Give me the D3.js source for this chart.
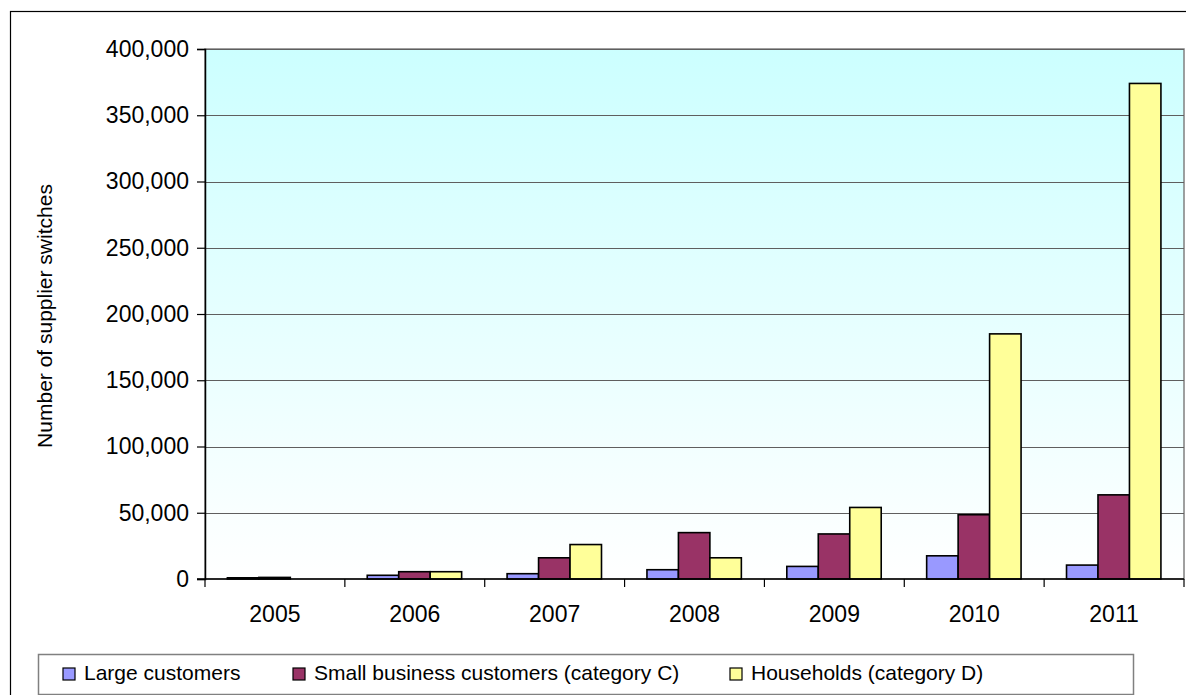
<!DOCTYPE html>
<html>
<head>
<meta charset="utf-8">
<script src="https://cdn.jsdelivr.net/npm/d3@7"></script>
<style>
  body { margin: 0; background: #fff; }
  svg { display: block; font-family: "Liberation Sans", Arial, sans-serif; }
</style>
</head>
<body>
<svg id="chart" width="1186" height="695"></svg>
<script>
// supplier switches per year
const years = ["2005", "2006", "2007", "2008", "2009", "2010", "2011"];
const seriesNames = ["Large customers", "Small business customers (category C)", "Households (category D)"];
const largeCustomers = [900, 2800, 4000, 7000, 9500, 17500, 10500];
const smallBusiness = [1200, 5500, 16000, 35000, 34000, 48500, 63500];
const households = [0, 5500, 26000, 16000, 54000, 185000, 374000];
const yTicks = [0, 50000, 100000, 150000, 200000, 250000, 300000, 350000, 400000];
const colors = ["#9999ff", "#993366", "#ffff99"];

const svg = d3.select("#chart");
const plot = { left: 205, top: 49, right: 1184, bottom: 579 };

// outer frame (right/bottom edges fall outside the window)
svg.append("rect")
  .attr("x", 10.5).attr("y", 11.5)
  .attr("width", 1200).attr("height", 700)
  .attr("fill", "none").attr("stroke", "#000").attr("stroke-width", 1.2);

const defs = svg.append("defs");
const grad = defs.append("linearGradient")
  .attr("id", "bg").attr("x1", 0).attr("y1", 0).attr("x2", 0).attr("y2", 1);
grad.append("stop").attr("offset", "0%").attr("stop-color", "#ccffff");
grad.append("stop").attr("offset", "100%").attr("stop-color", "#ffffff");

const x0 = d3.scaleBand().domain(years).range([plot.left, plot.right]).padding(0);
const bw = x0.bandwidth();
const x1 = d3.scaleBand().domain(d3.range(3)).range([bw * 0.16, bw * 0.835]).padding(0);
const y = d3.scaleLinear().domain([0, 400000]).range([plot.bottom, plot.top]);

// plot background
svg.append("rect")
  .attr("x", plot.left).attr("y", plot.top)
  .attr("width", plot.right - plot.left).attr("height", plot.bottom - plot.top)
  .attr("fill", "url(#bg)")
  .attr("stroke", "#808080").attr("stroke-width", 1.5);

// gridlines
svg.append("g")
  .selectAll("line")
  .data(yTicks.filter(d => d > 0))
  .join("line")
  .attr("x1", plot.left).attr("x2", plot.right)
  .attr("y1", d => Math.round(y(d)) + 0.5).attr("y2", d => Math.round(y(d)) + 0.5)
  .attr("stroke", "#5f5f5f").attr("stroke-width", 1.2);

// bars
const rows = years.map((yr, i) => ({ year: yr, vals: [largeCustomers[i], smallBusiness[i], households[i]] }));
svg.append("g")
  .selectAll("g")
  .data(rows)
  .join("g")
  .attr("transform", d => `translate(${x0(d.year)},0)`)
  .selectAll("rect")
  .data(d => d.vals.map((v, k) => ({ k, v })).filter(e => e.v > 0))
  .join("rect")
  .attr("x", d => x1(d.k))
  .attr("width", x1.bandwidth())
  .attr("y", d => y(d.v))
  .attr("height", d => y(0) - y(d.v))
  .attr("fill", d => colors[d.k])
  .attr("stroke", "#000").attr("stroke-width", 1.6);

// y axis
const yAxis = d3.axisLeft(y)
  .tickValues(yTicks)
  .tickSize(8)
  .tickPadding(8)
  .tickFormat(d3.format(","));
const yg = svg.append("g")
  .attr("transform", `translate(${plot.left},0)`)
  .call(yAxis);
yg.select(".domain").attr("stroke", "#000").attr("stroke-width", 1.5);
yg.selectAll(".tick line").attr("stroke", "#000").attr("stroke-width", 1.2);
yg.selectAll(".tick text").attr("font-size", 23).attr("fill", "#000")
  .attr("font-family", "Liberation Sans, Arial, sans-serif");

// x axis with ticks between categories
const xg = svg.append("g").attr("transform", `translate(0,${plot.bottom})`);
xg.append("line")
  .attr("x1", plot.left - 8).attr("x2", plot.right)
  .attr("y1", 0).attr("y2", 0)
  .attr("stroke", "#000").attr("stroke-width", 1.5);
xg.selectAll("line.tk")
  .data(years.concat(["end"]))
  .join("line")
  .attr("class", "tk")
  .attr("x1", (d, i) => plot.left + i * bw)
  .attr("x2", (d, i) => plot.left + i * bw)
  .attr("y1", 0).attr("y2", 8)
  .attr("stroke", "#000").attr("stroke-width", 1.2);
xg.selectAll("text")
  .data(years)
  .join("text")
  .attr("x", d => x0(d) + bw / 2)
  .attr("y", 43)
  .attr("text-anchor", "middle")
  .attr("font-size", 23)
  .text(d => d);

// y axis title
svg.append("text")
  .attr("transform", `translate(52,${(plot.top + plot.bottom) / 2 + 2}) rotate(-90)`)
  .attr("text-anchor", "middle")
  .attr("font-size", 21)
  .text("Number of supplier switches");

// legend
const legend = svg.append("g");
legend.append("rect")
  .attr("x", 38.5).attr("y", 654.5)
  .attr("width", 1095).attr("height", 40)
  .attr("fill", "#fff").attr("stroke", "#808080").attr("stroke-width", 1.5);
const legendX = [63, 293, 730];
const item = legend.selectAll("g.item")
  .data(seriesNames)
  .join("g")
  .attr("class", "item")
  .attr("transform", (d, i) => `translate(${legendX[i]},668)`);
item.append("rect")
  .attr("width", 12).attr("height", 12)
  .attr("fill", (d, i) => colors[i])
  .attr("stroke", "#000").attr("stroke-width", 1.2);
item.append("text")
  .attr("x", 21).attr("y", 12)
  .attr("font-size", 21)
  .text(d => d);
</script>
</body>
</html>
